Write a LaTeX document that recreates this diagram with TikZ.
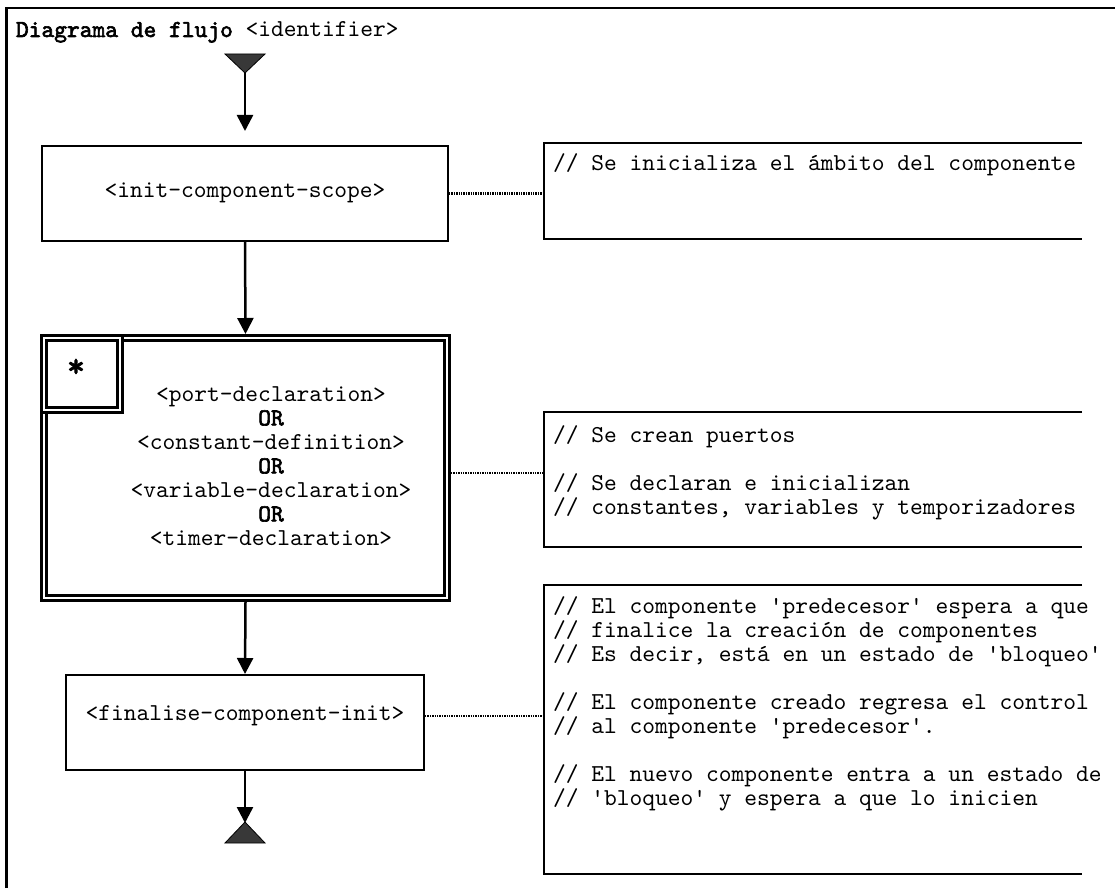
\documentclass[tikz,border=0pt]{standalone}
\usepackage{fontspec}
\setmainfont{lmmono10-regular.otf}[BoldFont=lmmono10-regular.otf, BoldFeatures={FakeBold=2.5}, Ligatures=TeXOff]
\usetikzlibrary{arrows.meta}
\definecolor{tri}{HTML}{383838}
\tikzset{
  txt/.style={font=\fontsize{24.3}{24}\selectfont, inner sep=0pt, outer sep=0pt},
  box/.style={draw, line width=2pt, inner sep=0pt},
  dbl/.style={draw, line width=2.8pt, double, double distance=2pt, inner sep=0pt, outer sep=3.8pt},
  brk/.style={line width=2pt},
  arr/.style={line width=2.5pt, -{Triangle[length=16pt,width=16pt]}},
  dots/.style={line width=2.2pt, dash pattern=on 1.4pt off 1pt},
  anchorbox/.style={inner sep=0pt, outer sep=0pt, anchor=north west},
  tristyle/.style={fill=tri, draw=black, line width=0.8pt}
}
\newcommand{\q}{\textquotesingle}
\begin{document}
\begin{tikzpicture}[x=1pt,y=-1pt]
\useasboundingbox (0,0) rectangle (1115,888);
% frame
\draw[line width=2.5pt] (6.5,888) -- (6.5,8) -- (1115,8);
% title
\node[txt, anchor=base west] (title) at (16,37) {\textbf{Diagrama de flujo} <identifier>};
% start
\coordinate (s) at (245,73);
\coordinate (s2) at (245,131);
\draw[tristyle] (225,54) -- (265,54) -- (s) -- cycle;
\draw[arr] (s) -- (s2);
% box 1
\node[box, minimum width=406pt, minimum height=95pt] (b1) at (245,193.5) {};
\node[txt] (b1t) at (245,193) {<init-component-scope>};
% box 2
\node[dbl, minimum width=403.4pt, minimum height=260.4pt] (b2) at (245.5,468) {};
\node[dbl, minimum width=76.4pt, minimum height=72.4pt] (star) at (82,374) {};
\node[txt, font=\fontsize{34}{34}\selectfont\bfseries] (st) at (76,368) {*};
\node[txt, align=center] (b2t) at (271,466) {<port-declaration>\\\textbf{OR}\\<constant-definition>\\\textbf{OR}\\<variable-declaration>\\\textbf{OR}\\<timer-declaration>};
% box 3
\node[box, minimum width=358pt, minimum height=95pt] (b3) at (245,722.5) {};
\node[txt] (b3t) at (245,716) {<finalise-component-init>};
% end
\coordinate (e) at (245,823);
\draw[tristyle] (225,843) -- (265,843) -- (245,822) -- cycle;
% flow arrows
\draw[arr] (b1.south) -- (b2.north);
\draw[arr] (b2.south) -- (b3.north);
\draw[arr] (b3.south) -- (e);
% annotations
\node[anchorbox, minimum width=538pt, minimum height=96pt] (a1) at (544,143) {};
\node[anchorbox, minimum width=538pt, minimum height=135pt] (a2) at (544,412) {};
\node[anchorbox, minimum width=538pt, minimum height=289pt] (a3) at (544,585) {};
\draw[brk] (a1.north east) -- (a1.north west) -- (a1.south west) -- (a1.south east);
\draw[brk] (a2.north east) -- (a2.north west) -- (a2.south west) -- (a2.south east);
\draw[brk] (a3.north east) -- (a3.north west) -- (a3.south west) -- (a3.south east);
\node[txt, align=left, anchor=north west] (a1t) at (553,152) {\rule{0pt}{18pt}// Se inicializa el ámbito del componente};
\node[txt, align=left, anchor=north west] (a2t) at (553,424) {\rule{0pt}{18pt}// Se crean puertos\\\mbox{}\\// Se declaran e inicializan\\// constantes, variables y temporizadores};
\node[txt, align=left, anchor=north west] (a3t) at (553,595) {\rule{0pt}{18pt}// El componente \q predecesor\q{} espera a que\\// finalice la creación de componentes\\// Es decir, está en un estado de \q bloqueo\q\\\mbox{}\\// El componente creado regresa el control\\// al componente \q predecesor\q.\\\mbox{}\\// El nuevo componente entra a un estado de\\// \q bloqueo\q{} y espera a que lo inicien};
% dotted connectors
\draw[dots] (b1.east) -- (b1.east -| a1.west);
\draw[dots] ([yshift=-5pt]b2.east) -- ([yshift=-5pt]b2.east -| a2.west);
\draw[dots] ([yshift=6.5pt]b3.east) -- ([yshift=6.5pt]b3.east -| a3.west);
\end{tikzpicture}
\end{document}
